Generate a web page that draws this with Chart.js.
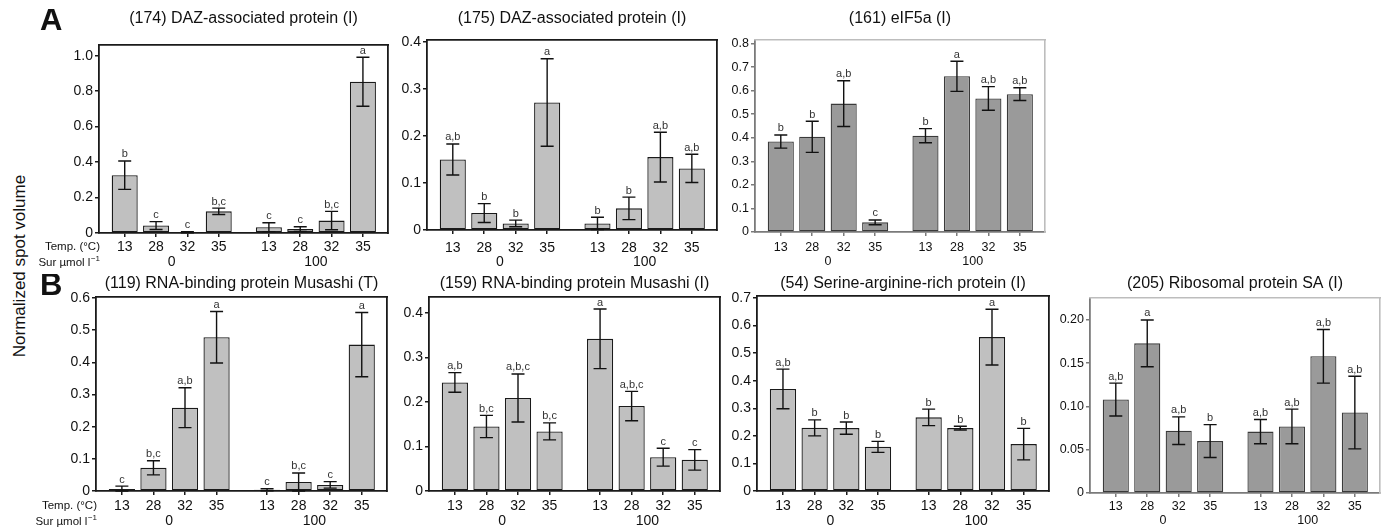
<!DOCTYPE html>
<html><head><meta charset="utf-8">
<script src="https://cdn.jsdelivr.net/npm/chart.js@4.4.0/dist/chart.umd.min.js"></script>
<style>
html,body{margin:0;padding:0;background:#fff;}
body{width:1384px;height:529px;position:relative;overflow:hidden;font-family:"Liberation Sans",Arial,sans-serif;color:#111;}
canvas{position:absolute;outline:1px solid rgba(255,255,255,0);}
.lbl{position:absolute;white-space:nowrap;}
</style></head><body>
<div class="lbl" style="left:20px;top:266px;font-size:17px;line-height:20px;transform:translate(-50%,-50%) rotate(-90deg);">Normalized spot volume</div>
<script>
// ---------- data ----------
const tempLabels = ['13','28','32','35','13','28','32','35'];
const surLabels = ['0','100'];
const rowLabels = ['Temp. (°C)', 'Sur µmol l', '−1'];
const panelLetters = ['A', 'B'];

const p174Values  = [0.326, 0.042, 0.004, 0.122, 0.033, 0.022, 0.070, 0.853];
const p174Errors  = [0.080, 0.022, 0.003, 0.018, 0.025, 0.013, 0.052, 0.138];
const p174Letters = ['b','c','c','b,c','c','c','b,c','a'];
const p174Ticks = [0, 0.2, 0.4, 0.6, 0.8, 1.0];
const p174TickLabels = ['0','0.2','0.4','0.6','0.8','1.0'];

const p175Values  = [0.150, 0.036, 0.014, 0.271, 0.014, 0.046, 0.155, 0.131];
const p175Errors  = [0.033, 0.020, 0.007, 0.093, 0.013, 0.024, 0.053, 0.030];
const p175Letters = ['a,b','b','b','a','b','b','a,b','a,b'];
const p175Ticks = [0, 0.1, 0.2, 0.3, 0.4];
const p175TickLabels = ['0','0.1','0.2','0.3','0.4'];

const p161Values  = [0.384, 0.404, 0.545, 0.041, 0.409, 0.661, 0.567, 0.585];
const p161Errors  = [0.028, 0.066, 0.097, 0.010, 0.030, 0.064, 0.050, 0.027];
const p161Letters = ['b','b','a,b','c','b','a','a,b','a,b'];
const p161Ticks = [0, 0.1, 0.2, 0.3, 0.4, 0.5, 0.6, 0.7, 0.8];
const p161TickLabels = ['0','0.1','0.2','0.3','0.4','0.5','0.6','0.7','0.8'];

const p119Values  = [0.006, 0.072, 0.259, 0.478, 0.004, 0.028, 0.019, 0.455];
const p119Errors  = [0.009, 0.022, 0.062, 0.080, 0.003, 0.028, 0.010, 0.100];
const p119Letters = ['c','b,c','a,b','a','c','b,c','c','a'];
const p119Ticks = [0, 0.1, 0.2, 0.3, 0.4, 0.5, 0.6];
const p119TickLabels = ['0','0.1','0.2','0.3','0.4','0.5','0.6'];

const p159Values  = [0.244, 0.145, 0.209, 0.134, 0.342, 0.191, 0.076, 0.070];
const p159Errors  = [0.022, 0.025, 0.054, 0.019, 0.067, 0.033, 0.020, 0.023];
const p159Letters = ['a,b','b,c','a,b,c','b,c','a','a,b,c','c','c'];
const p159Ticks = [0, 0.1, 0.2, 0.3, 0.4];
const p159TickLabels = ['0','0.1','0.2','0.3','0.4'];

const p54Values  = [0.370, 0.229, 0.228, 0.160, 0.267, 0.228, 0.558, 0.170];
const p54Errors  = [0.072, 0.029, 0.022, 0.020, 0.030, 0.007, 0.101, 0.057];
const p54Letters = ['a,b','b','b','b','b','b','a','b'];
const p54Ticks = [0, 0.1, 0.2, 0.3, 0.4, 0.5, 0.6, 0.7];
const p54TickLabels = ['0','0.1','0.2','0.3','0.4','0.5','0.6','0.7'];

const p205Values  = [0.108, 0.173, 0.072, 0.060, 0.071, 0.077, 0.158, 0.093];
const p205Errors  = [0.019, 0.027, 0.016, 0.019, 0.014, 0.020, 0.031, 0.042];
const p205Letters = ['a,b','a','a,b','b','a,b','a,b','a,b','a,b'];
const p205Ticks = [0, 0.05, 0.10, 0.15, 0.20];
const p205TickLabels = ['0','0.05','0.10','0.15','0.20'];

// ---------- layout ----------
const slotX = [0, 1, 2, 3, 4.6, 5.6, 6.6, 7.6];
const X_MIN = -0.82, X_MAX = 8.4;
const FONT = '"Liberation Sans", Arial, sans-serif';

const panels = [
  {title:'(174) DAZ-associated protein (I)', values:p174Values, errors:p174Errors, letters:p174Letters, ticks:p174Ticks, tickLabels:p174TickLabels, yMax:1.06, dark:false, box:{l:99,r:388,t:45,b:233}, titleY:18.5, labelY:247.5, groupY:262, lead:0},
  {title:'(175) DAZ-associated protein (I)', values:p175Values, errors:p175Errors, letters:p175Letters, ticks:p175Ticks, tickLabels:p175TickLabels, yMax:0.404, dark:false, box:{l:427,r:717,t:40,b:229.5}, titleY:18.5, labelY:248, groupY:262},
  {title:'(161) eIF5a (I)', values:p161Values, errors:p161Errors, letters:p161Letters, ticks:p161Ticks, tickLabels:p161TickLabels, yMax:0.815, dark:true, box:{l:755,r:1045,t:40,b:232}, titleY:18.5, labelY:248, groupY:262},
  {title:'(119) RNA-binding protein Musashi (T)', values:p119Values, errors:p119Errors, letters:p119Letters, ticks:p119Ticks, tickLabels:p119TickLabels, yMax:0.603, dark:false, box:{l:96,r:387,t:297,b:491}, titleY:283.5, labelY:506.5, groupY:521, lead:1},
  {title:'(159) RNA-binding protein Musashi (I)', values:p159Values, errors:p159Errors, letters:p159Letters, ticks:p159Ticks, tickLabels:p159TickLabels, yMax:0.436, dark:false, box:{l:429,r:720,t:297,b:491}, titleY:283.5, labelY:506.5, groupY:521},
  {title:'(54) Serine-arginine-rich protein (I)', values:p54Values, errors:p54Errors, letters:p54Letters, ticks:p54Ticks, tickLabels:p54TickLabels, yMax:0.707, dark:false, box:{l:757,r:1049,t:296,b:491}, titleY:283.5, labelY:506.5, groupY:521},
  {title:'(205) Ribosomal protein SA (I)', values:p205Values, errors:p205Errors, letters:p205Letters, ticks:p205Ticks, tickLabels:p205TickLabels, yMax:0.2254, dark:true, box:{l:1090,r:1380,t:298,b:493}, titleY:283.5, labelY:507, groupY:521}
];

const decor = {
  id: 'decor',
  afterDatasetsDraw(chart, args, o) {
    const {ctx, chartArea: a, scales: {x, y}} = chart;
    const ds = chart.data.datasets[0];
    ctx.save();
    // error bars + significance letters
    ctx.strokeStyle = '#111'; ctx.lineWidth = 1.4;
    ctx.fillStyle = '#333'; ctx.font = '11px ' + FONT; ctx.textAlign = 'center'; ctx.textBaseline = 'alphabetic';
    ds.data.forEach((d, i) => {
      const e = ds.errors[i];
      const px = x.getPixelForValue(d.x);
      const yt = y.getPixelForValue(d.y + e);
      const yb = y.getPixelForValue(Math.max(0, d.y - e));
      ctx.beginPath();
      ctx.moveTo(px, yt); ctx.lineTo(px, yb);
      ctx.moveTo(px - 6.5, yt); ctx.lineTo(px + 6.5, yt);
      ctx.moveTo(px - 6.5, yb); ctx.lineTo(px + 6.5, yb);
      ctx.stroke();
      ctx.fillText(ds.letters[i], px, yt - 3.5);
    });
    // Sur group labels
    ctx.fillStyle = '#111'; ctx.font = o.tickFont + 'px ' + FONT; ctx.textBaseline = 'middle';
    const centers = [(slotX[0] + slotX[3]) / 2, (slotX[4] + slotX[7]) / 2];
    surLabels.forEach((s, i) => ctx.fillText(s, x.getPixelForValue(centers[i]), o.groupY));
    // row labels + panel letter for the first panel of a row
    if (o.lead !== undefined) {
      const rx = a.left + 1;
      ctx.textAlign = 'right'; ctx.textBaseline = 'middle'; ctx.fillStyle = '#111';
      ctx.font = '11.5px ' + FONT;
      ctx.fillText(rowLabels[0], rx, o.tempY);
      ctx.font = '8px ' + FONT;
      const supW = ctx.measureText(rowLabels[2]).width;
      ctx.fillText(rowLabels[2], rx, o.surY - 4);
      ctx.font = '11.5px ' + FONT;
      ctx.fillText(rowLabels[1], rx - supW - 0.5, o.surY);
      ctx.textAlign = 'left'; ctx.textBaseline = 'alphabetic';
      ctx.font = 'bold 31px ' + FONT;
      ctx.fillText(panelLetters[o.lead], o.letterX, o.letterY);
    }
    ctx.restore();
  }
};

function frameAxis(position, color, width, horizontal) {
  return {
    type: 'linear', position, display: true, min: 0, max: 1,
    grid: {display: false, drawTicks: false},
    ticks: {display: false},
    border: {display: true, color, width},
    afterFit: s => { if (horizontal) s.height = 0; else s.width = 0; }
  };
}

function build(p) {
  const lead = p.lead !== undefined;
  const Wy = lead ? 62 : 50, Hx = 40, padR = 4;
  const tickFont = p.dark ? 12.5 : 14;
  const axisColor = p.dark ? '#7a7a7a' : '#1a1a1a';
  const frameColor = p.dark ? '#bdbdbd' : '#1a1a1a';
  const frameWidth = p.dark ? 1.6 : 1.8;
  const canvasTop = Math.round(p.titleY - 9.6);
  const pb = p.box.t - canvasTop - 19.2;
  const left = p.box.l - Wy;
  const width = Math.round(p.box.r - left + padR);
  const height = Math.round(p.box.b - canvasTop + Hx);
  const cv = document.createElement('canvas');
  cv.width = width; cv.height = height;
  cv.style.left = left + 'px'; cv.style.top = canvasTop + 'px';
  cv.style.width = width + 'px'; cv.style.height = height + 'px';
  document.body.appendChild(cv);
  const xPad = p.labelY - p.box.b - 4 - tickFont * 0.6;
  new Chart(cv, {
    type: 'bar',
    data: {
      datasets: [{
        data: p.values.map((v, i) => ({x: slotX[i], y: v})),
        errors: p.errors, letters: p.letters,
        backgroundColor: p.dark ? '#9a9a9a' : '#c0c0c0',
        borderColor: p.dark ? '#3a3a3a' : '#1a1a1a',
        borderWidth: 1.3, borderSkipped: false,
        categoryPercentage: 1.0, barPercentage: 0.83,
        xAxisID: 'x', yAxisID: 'y'
      }]
    },
    options: {
      responsive: false, animation: false,
      layout: {padding: {top: 0, left: 0, right: width - (p.box.r - left), bottom: 0}},
      plugins: {
        legend: {display: false}, tooltip: {enabled: false},
        title: {display: true, text: p.title, fullSize: false, color: '#111',
                font: {family: FONT, size: 16, weight: 'normal', lineHeight: 1.2},
                padding: {top: 0, bottom: pb}},
        decor: {tickFont: tickFont, groupY: p.groupY - canvasTop, lead: p.lead,
                tempY: p.labelY - 0.5 - canvasTop, surY: p.groupY + 0.5 - canvasTop,
                letterX: 40 - left, letterY: p.titleY + 11.5 - canvasTop}
      },
      scales: {
        x: {
          type: 'linear', min: X_MIN, max: X_MAX, offset: false,
          afterBuildTicks: s => { s.ticks = slotX.map(v => ({value: v})); },
          afterFit: s => { s.height = Hx; },
          ticks: {callback: (v, i) => tempLabels[i], autoSkip: false, maxRotation: 0, color: '#111',
                  font: {family: FONT, size: tickFont}, padding: xPad},
          grid: {display: true, offset: false, drawOnChartArea: false, drawTicks: true, tickLength: 4, color: axisColor, lineWidth: 1.5},
          border: {display: true, color: axisColor, width: 1.8}
        },
        y: {
          type: 'linear', min: 0, max: p.yMax,
          afterBuildTicks: s => { s.ticks = p.ticks.map(v => ({value: v})); },
          afterFit: s => { s.width = Wy; },
          ticks: {callback: (v, i) => p.tickLabels[i], autoSkip: false, color: '#111',
                  font: {family: FONT, size: tickFont}, padding: 2},
          grid: {display: true, drawOnChartArea: false, drawTicks: true, tickLength: 4, color: axisColor, lineWidth: 1.5},
          border: {display: true, color: axisColor, width: 1.8}
        },
        xTop: frameAxis('top', frameColor, frameWidth, true),
        yRight: frameAxis('right', frameColor, frameWidth, false)
      }
    },
    plugins: [decor]
  });
}
panels.forEach(build);
</script>
</body></html>
